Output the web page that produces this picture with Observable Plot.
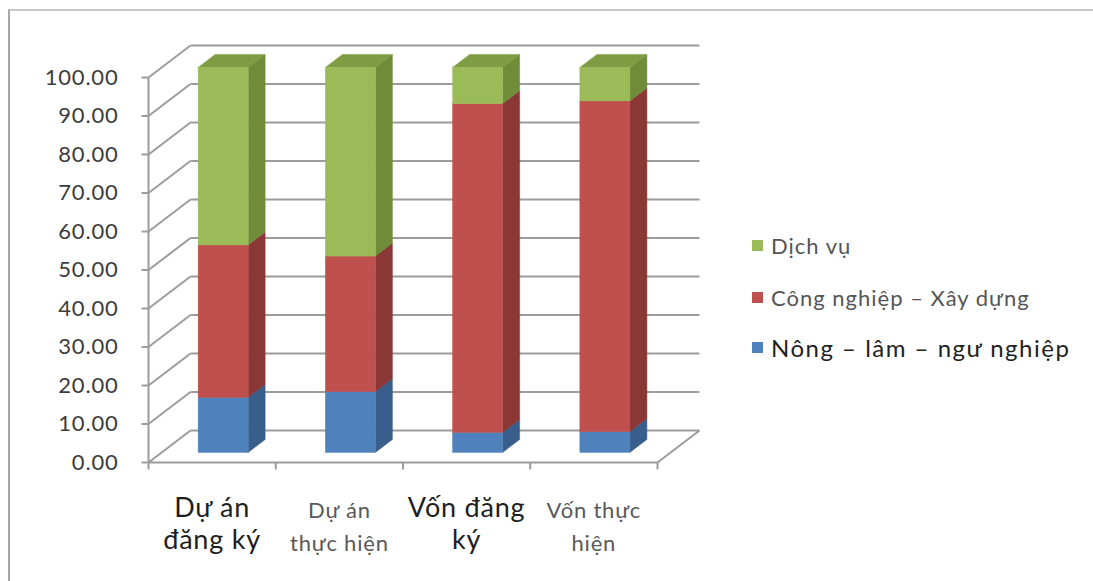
<!DOCTYPE html>
<html>
<head>
<meta charset="utf-8">
<script src="https://cdn.jsdelivr.net/npm/d3@7"></script>
<script src="https://cdn.jsdelivr.net/npm/@observablehq/plot@0.6"></script>
<style>
  html, body { margin: 0; padding: 0; background: #fff; }
  #wrap { position: relative; width: 1093px; height: 581px; overflow: hidden; font-family: Lato, "Open Sans", sans-serif; }
  #frame { position: absolute; left: 8px; top: 9px; width: 1100px; height: 600px; border-left: 2px solid #a8a8a8; border-top: 2px solid #c8c8c8; box-sizing: border-box; }
  #chart { position: absolute; left: 0; top: 0; }
  #legend { position: absolute; left: 752px; top: 0; }
  .item { position: absolute; white-space: nowrap; display: flex; align-items: center; }
  .sw { width: 11px; height: 11px; margin-right: 8px; }
</style>
</head>
<body>
<div id="wrap">
  <div id="frame"></div>
  <div id="chart"></div>
  <div id="legend"></div>
</div>
<script>
// ---- data ----
const categories = ["Dự án\nđăng ký", "Dự án\nthực hiện", "Vốn đăng\nký", "Vốn thực\nhiện"];
const emphasized = [true, false, true, false];
const seriesNames = ["Nông – lâm – ngư nghiệp", "Công nghiệp – Xây dựng", "Dịch vụ"];
const nongLam    = [14.3, 15.8, 5.2, 5.4];
const congNghiep = [39.6, 35.2, 85.4, 85.9];
const dichVu     = [46.1, 49.0, 9.4, 8.7];
const yTicks = [0, 10, 20, 30, 40, 50, 60, 70, 80, 90, 100];

// ---- styling / pseudo-3D geometry ----
const frontColors = ["#4F81BD", "#C0504D", "#9BBB59"];
const sideColors  = ["#385E8C", "#8A3735", "#6F8C38"];
const topColors   = ["#4470A6", "#A8403D", "#7E9C42"];
const DX = 0.33, DY = 8.31;      // depth of the box (x units, y units)
const T0 = 0.30, T1 = 0.705;     // depth of bar front / back
const BX = 0.295, BW = 0.393;    // bar offset and width inside a category
const series = [nongLam, congNghiep, dichVu];

const segs = [];
categories.forEach((c, i) => {
  let cum = 0;
  series.forEach((vals, s) => {
    const y0 = cum, y1 = cum + vals[i];
    cum = y1;
    segs.push({i, s, y0, y1, key: i + "-" + s, top: s === series.length - 1});
  });
});

const sidePts = [];
const topPts = [];
segs.forEach(d => {
  const xr = d.i + BX + BW;
  sidePts.push({key: d.key, fill: sideColors[d.s], x: xr + T0 * DX, lo: d.y0 + T0 * DY, hi: d.y1 + T0 * DY});
  sidePts.push({key: d.key, fill: sideColors[d.s], x: xr + T1 * DX, lo: d.y0 + T1 * DY, hi: d.y1 + T1 * DY});
  if (d.top) {
    const xl = d.i + BX;
    [T0, T1].forEach(t => topPts.push({key: d.key, fill: topColors[d.s], y: d.y1 + t * DY, xa: xl + t * DX, xb: xl + BW + t * DX}));
  }
});

const grid = [];
yTicks.forEach(v => {
  grid.push({x1: 0, y1: v, x2: DX, y2: v + DY});
  grid.push({x1: DX, y1: v + DY, x2: categories.length + DX, y2: v + DY});
  grid.push({x1: -0.055, y1: v, x2: 0, y2: v});
});
grid.push({x1: 0, y1: 0, x2: categories.length, y2: 0});
grid.push({x1: categories.length, y1: 0, x2: categories.length + DX, y2: DY});
grid.push({x1: 0, y1: 0, x2: 0, y2: 100});
d3.range(categories.length + 1).forEach(b => grid.push({x1: b, y1: 0, x2: b, y2: -1.8}));

const catData = categories.map((c, i) => ({i, c, em: emphasized[i]}));

const W = 720, H = 581;
const chart = Plot.plot({
  width: W, height: H,
  marginLeft: 148, marginRight: W - 657, marginTop: 77, marginBottom: H - 462,
  x: {domain: [0, categories.length], axis: null},
  y: {domain: [0, 100], axis: null},
  color: {type: "identity"},
  style: {background: "transparent", overflow: "visible", letterSpacing: "0.8px"},
  marks: [
    Plot.link(grid, {x1: "x1", y1: "y1", x2: "x2", y2: "y2", stroke: "#9c9c9c", strokeWidth: 2}),
    Plot.areaY(sidePts, {x: "x", y1: "lo", y2: "hi", z: "key", fill: "fill", stroke: "fill", strokeWidth: 0.5, curve: "linear"}),
    Plot.areaX(topPts, {y: "y", x1: "xa", x2: "xb", z: "key", fill: "fill", stroke: "fill", strokeWidth: 0.5, curve: "linear"}),
    Plot.rect(segs, {
      x1: d => d.i + BX + T0 * DX, x2: d => d.i + BX + BW + T0 * DX,
      y1: d => d.y0 + T0 * DY, y2: d => d.y1 + T0 * DY,
      fill: d => frontColors[d.s], stroke: d => frontColors[d.s], strokeWidth: 0.5
    }),
    Plot.text(yTicks, {x: 0, y: d => d, text: d => d.toFixed(2), textAnchor: "end", dx: -30, fontSize: 22, fill: "#3c3c3c", fontFamily: "Lato"}),
    Plot.text(catData.filter(d => d.em), {x: d => d.i + 0.5, y: 0, text: "c", dy: 60, lineAnchor: "middle", fontSize: 27, lineHeight: 32 / 27, fill: "#1e1e1e", fontFamily: "Lato"}),
    Plot.text(catData.filter(d => !d.em), {x: d => d.i + 0.5, y: 0, text: "c", dy: 61, lineAnchor: "middle", fontSize: 22, lineHeight: 33 / 22, fill: "#595959", fontFamily: "Lato"})
  ]
});
document.getElementById("chart").appendChild(chart);

// ---- legend (top to bottom as in the reference) ----
const legend = document.getElementById("legend");
const legendOrder = [2, 1, 0];
const legendY = [245, 297, 347];
const legendSize = [22, 22, 24];
const legendSpacing = [1, 1, 1.5];
const legendColor = ["#555", "#555", "#222"];
legendOrder.forEach((s, k) => {
  const it = document.createElement("div");
  it.className = "item";
  it.style.top = (legendY[k] - 15) + "px";
  it.style.height = "30px";
  it.innerHTML = `<div class="sw" style="background:${frontColors[s]}"></div><span style="font-size:${legendSize[k]}px;letter-spacing:${legendSpacing[k]}px;color:${legendColor[k]}">${seriesNames[s]}</span>`;
  legend.appendChild(it);
});
</script>
</body>
</html>
